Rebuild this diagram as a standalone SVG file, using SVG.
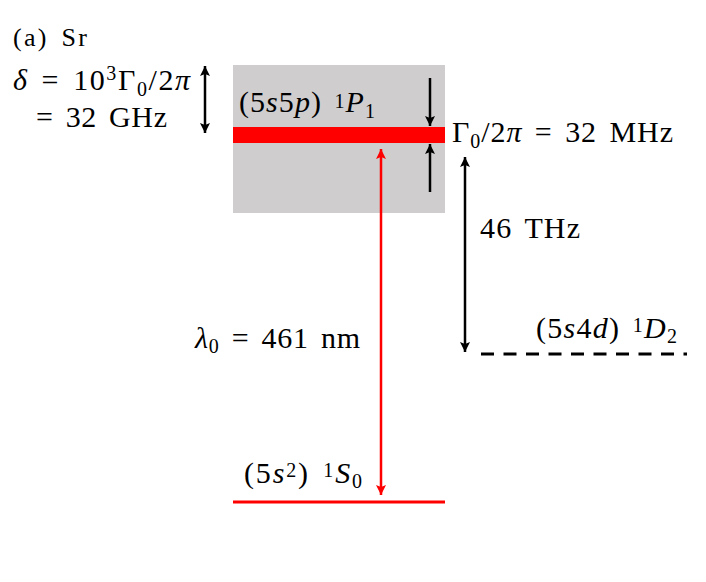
<svg xmlns="http://www.w3.org/2000/svg" width="706" height="582" viewBox="0 0 706 582">
<defs>
<marker id="hb" viewBox="0 0 10 10" refX="10" refY="5" markerWidth="4" markerHeight="4" orient="auto-start-reverse" markerUnits="strokeWidth">
<path d="M0,0 L10,5 L0,10 L2,5 Z" fill="#000"/>
</marker>
<marker id="hr" viewBox="0 0 10 10" refX="10" refY="5" markerWidth="4" markerHeight="4" orient="auto-start-reverse" markerUnits="strokeWidth">
<path d="M0,0 L10,5 L0,10 L2,5 Z" fill="#f00"/>
</marker>
</defs>
<style>
text{font-family:"Liberation Serif","DejaVu Serif",serif;font-size:30px;fill:#000;word-spacing:4px}
.i{font-style:italic}
.sub{font-size:20px}
.blk{stroke:#000;stroke-width:2.5;fill:none}
</style>
<rect width="706" height="582" fill="#fff"/>
<g id="p1">
<rect x="233" y="65" width="212" height="148" fill="#cfcdce"/>
<rect x="233" y="127" width="212" height="16" fill="#f00"/>
<text x="239" y="112" textLength="136" lengthAdjust="spacing">(5<tspan class="i">s</tspan>5<tspan class="i">p</tspan>) <tspan class="sub" dy="-4">1</tspan><tspan class="i" dy="4">P</tspan><tspan class="sub" dy="6">1</tspan></text>
</g>
<g id="s0">
<line x1="233" y1="502" x2="445" y2="502" stroke="#f00" stroke-width="3"/>
<text x="244" y="483" textLength="118" lengthAdjust="spacing">(5<tspan class="i">s</tspan><tspan class="sub" dy="-6">2</tspan><tspan dy="6">) </tspan><tspan class="sub" dy="-6">1</tspan><tspan class="i" dy="6">S</tspan><tspan class="sub" dy="5">0</tspan></text>
</g>
<g id="d2">
<line x1="481" y1="354" x2="687" y2="354" stroke="#000" stroke-width="3" stroke-dasharray="13 9.5"/>
<text x="536" y="338" textLength="141" lengthAdjust="spacing">(5<tspan class="i">s</tspan>4<tspan class="i">d</tspan>) <tspan class="sub" dy="-6">1</tspan><tspan class="i" dy="6">D</tspan><tspan class="sub" dy="5">2</tspan></text>
</g>
<g id="labels">
<text x="13" y="46" style="font-size:26px" textLength="74" lengthAdjust="spacing">(a) Sr</text>
<text x="13" y="90" textLength="177" lengthAdjust="spacing"><tspan class="i">δ</tspan> = 10<tspan class="sub" dy="-10">3</tspan><tspan dy="10">Γ</tspan><tspan class="sub" dy="6">0</tspan><tspan dy="-6">/2</tspan><tspan class="i">π</tspan></text>
<text x="36" y="127" textLength="131" lengthAdjust="spacing">= 32 GHz</text>
<text x="452" y="142" textLength="221" lengthAdjust="spacing">Γ<tspan class="sub" dy="6">0</tspan><tspan dy="-6">/2</tspan><tspan class="i">π</tspan> = 32 MHz</text>
<text x="480" y="238" textLength="100" lengthAdjust="spacing">46 THz</text>
<text x="195" y="348" textLength="165" lengthAdjust="spacing"><tspan class="i">λ</tspan><tspan class="sub" dy="5">0</tspan><tspan dy="-5"> = 461 nm</tspan></text>
</g>
<g id="connectors">
<line class="blk" x1="205" y1="66" x2="205" y2="133" marker-start="url(#hb)" marker-end="url(#hb)"/>
<line class="blk" x1="430" y1="78" x2="430" y2="126" marker-end="url(#hb)"/>
<line class="blk" x1="430" y1="192" x2="430" y2="144" marker-end="url(#hb)"/>
<line class="blk" x1="465" y1="157" x2="465" y2="352" marker-start="url(#hb)" marker-end="url(#hb)"/>
<line x1="381" y1="149" x2="381" y2="495" stroke="#f00" stroke-width="2.5" marker-start="url(#hr)" marker-end="url(#hr)"/>
</g>
</svg>
